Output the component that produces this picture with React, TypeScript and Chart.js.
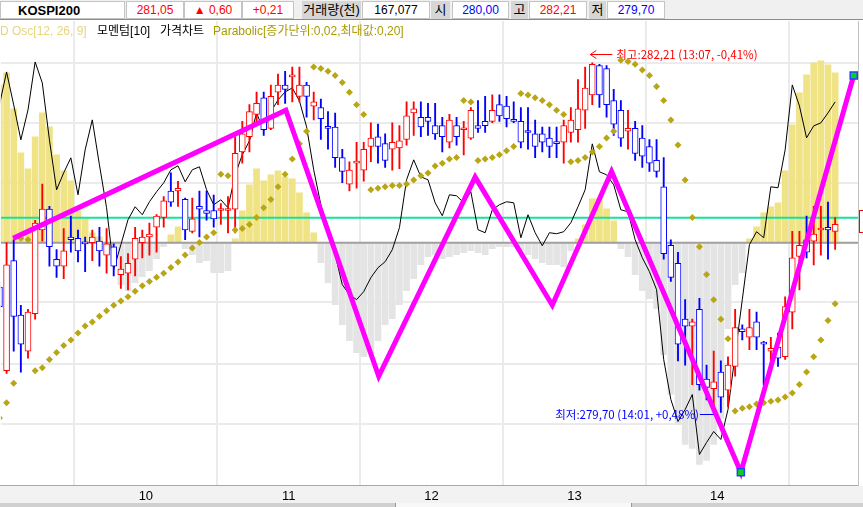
import React, { useEffect, useRef } from 'react';
import { Chart, registerables } from 'chart.js';
Chart.register(...registerables);

// ---- data (3-minute candles, index 0 = 09:00) ----
const START_INDEX = -1;
const OPEN = [280.60, 280.00, 280.79, 280.40, 280.14, 280.41, 281.01, 281.16, 280.80, 280.75,
  280.96, 280.95, 280.92, 280.92, 280.93, 280.83, 280.89, 280.69, 280.70, 280.80,
  280.92, 280.96, 281.03, 281.10, 281.29, 281.29, 281.23, 281.00, 281.18, 281.15,
  281.15, 281.15, 281.15, 281.16, 281.57, 281.68, 281.84, 281.96, 281.74, 282.00,
  282.05, 282.11, 281.97, 282.05, 281.90, 281.89, 281.75, 281.75, 281.53, 281.34,
  281.49, 281.44, 281.61, 281.68, 281.63, 281.59, 281.60, 281.66, 281.85, 281.82,
  281.82, 281.76, 281.76, 281.64, 281.76, 281.73, 281.67, 281.76, 281.79, 281.79,
  281.91, 281.90, 281.80, 281.79, 281.72, 281.70, 281.70, 281.67, 281.64, 281.64,
  281.71, 281.73, 281.87, 281.98, 282.19, 282.17, 281.94, 281.87, 281.72, 281.74,
  281.67, 281.61, 281.51, 281.32, 280.90, 280.77, 280.37, 280.32, 280.44, 279.94,
  279.87, 279.99, 279.86, 280.03, 280.30, 280.24, 280.35, 280.20, 280.14, 280.17,
  280.10, 280.42, 280.82, 280.94, 280.93, 281.01, 281.03, 281.00];
const HIGH = [280.64, 280.92, 280.94, 280.47, 280.44, 281.08, 281.34, 281.18, 280.87, 281.02,
  281.11, 281.01, 280.96, 281.01, 281.03, 281.02, 280.91, 280.82, 280.84, 281.03,
  281.01, 281.06, 281.12, 281.25, 281.42, 281.36, 281.24, 281.24, 281.29, 281.29,
  281.26, 281.20, 281.25, 281.68, 281.79, 281.91, 282.00, 282.00, 282.05, 282.13,
  282.15, 282.18, 282.18, 282.07, 282.00, 281.95, 281.86, 281.85, 281.59, 281.50,
  281.64, 281.64, 281.78, 281.77, 281.70, 281.78, 281.76, 281.93, 281.93, 281.93,
  281.92, 281.92, 281.82, 281.84, 281.82, 281.79, 281.89, 281.94, 281.97, 281.98,
  281.98, 281.97, 281.93, 281.89, 281.89, 281.80, 281.75, 281.75, 281.75, 281.80,
  281.89, 282.09, 282.18, 282.21, 282.20, 282.19, 282.02, 281.94, 281.87, 281.79,
  281.76, 281.66, 281.66, 281.53, 280.94, 280.85, 280.51, 280.37, 280.52, 280.04,
  280.14, 280.07, 280.10, 280.44, 280.33, 280.44, 280.42, 280.21, 280.24, 280.27,
  280.53, 281.00, 281.00, 281.11, 281.18, 281.18, 281.21, 281.10];
const LOW = [280.42, 279.98, 280.14, 279.99, 280.09, 280.37, 280.93, 280.75, 280.67, 280.66,
  280.85, 280.78, 280.71, 280.79, 280.75, 280.70, 280.68, 280.59, 280.58, 280.68,
  280.81, 280.83, 280.85, 281.03, 281.18, 281.18, 280.94, 280.99, 280.96, 281.08,
  281.03, 281.05, 280.99, 280.99, 281.49, 281.57, 281.77, 281.69, 281.73, 281.91,
  281.92, 281.93, 281.93, 281.82, 281.80, 281.66, 281.59, 281.46, 281.35, 281.29,
  281.31, 281.36, 281.50, 281.49, 281.46, 281.44, 281.45, 281.62, 281.69, 281.68,
  281.69, 281.66, 281.57, 281.60, 281.62, 281.55, 281.66, 281.71, 281.71, 281.78,
  281.79, 281.75, 281.78, 281.60, 281.59, 281.53, 281.57, 281.53, 281.53, 281.49,
  281.64, 281.64, 281.74, 281.91, 281.89, 281.82, 281.69, 281.61, 281.59, 281.51,
  281.46, 281.43, 281.39, 280.80, 280.64, 280.07, 280.04, 279.90, 279.86, 279.79,
  279.74, 279.70, 279.74, 279.96, 280.22, 280.15, 280.15, 279.90, 280.03, 280.03,
  280.08, 280.30, 280.58, 280.81, 280.76, 280.83, 280.80, 280.87];
const CLOSE = [280.46, 280.76, 280.39, 280.19, 280.42, 281.06, 281.16, 280.89, 280.75, 280.86,
  280.94, 280.86, 280.91, 280.96, 280.86, 280.91, 280.75, 280.73, 280.77, 280.95,
  280.96, 280.98, 281.11, 281.22, 281.21, 281.31, 281.01, 281.09, 281.16, 281.13,
  281.09, 281.16, 281.16, 281.56, 281.70, 281.86, 281.92, 281.73, 281.97, 282.05,
  282.02, 282.12, 282.05, 281.97, 281.93, 281.81, 281.74, 281.53, 281.43, 281.44,
  281.50, 281.59, 281.67, 281.61, 281.51, 281.64, 281.65, 281.83, 281.88, 281.75,
  281.79, 281.70, 281.68, 281.80, 281.68, 281.74, 281.87, 281.74, 281.76, 281.87,
  281.83, 281.81, 281.79, 281.64, 281.71, 281.61, 281.64, 281.61, 281.63, 281.76,
  281.80, 281.88, 282.03, 282.20, 281.98, 281.91, 281.77, 281.67, 281.74, 281.56,
  281.54, 281.49, 281.43, 280.84, 280.67, 280.19, 280.32, 280.35, 279.90, 279.88,
  279.92, 279.81, 280.04, 280.31, 280.28, 280.31, 280.24, 280.19, 280.16, 280.09,
  280.46, 280.81, 280.90, 280.85, 280.98, 281.02, 281.01, 281.05];
const SAR = [279.66, 279.77, 279.91, 280.95, 280.94, 280.00, 280.02, 280.08, 280.13, 280.18,
  280.22, 280.27, 280.32, 280.35, 280.39, 280.43, 280.47, 280.50, 280.53, 280.57,
  280.61, 280.64, 280.67, 280.70, 280.74, 280.78, 280.83, 280.88, 280.92, 280.96,
  280.99, 281.41, 281.40, 281.01, 281.02, 281.05, 281.10, 281.17, 281.23, 281.32,
  281.41, 281.52, 281.63, 281.72, 282.18, 282.17, 282.15, 282.12, 282.07, 282.00,
  281.91, 281.84, 281.30, 281.31, 281.32, 281.33, 281.33, 281.34, 281.37, 281.40,
  281.42, 281.47, 281.49, 281.52, 281.53, 281.94, 281.93, 281.51, 281.52, 281.53,
  281.55, 281.58, 281.61, 281.99, 281.98, 281.96, 281.94, 281.91, 281.87, 281.84,
  281.50, 281.51, 281.53, 281.57, 281.61, 281.67, 281.72, 282.23, 282.22, 282.20,
  282.16, 282.12, 282.04, 281.94, 281.80, 281.62, 281.37, 281.10, 280.89, 280.69,
  280.51, 280.37, 280.23, 279.71, 279.73, 279.74, 279.76, 279.77, 279.78, 279.79,
  279.81, 279.84, 279.90, 279.99, 280.10, 280.22, 280.36, 280.48];
const MACD_OSC = [0.079, 0.085, 0.067, 0.045, 0.037, 0.053, 0.065, 0.058, 0.044, 0.036,
  0.031, 0.016, 0.012, 0.005, 0.003, -0.003, -0.010, -0.021, -0.024, -0.020,
  -0.017, -0.014, -0.008, -0.002, 0.004, 0.008, -0.003, -0.006, -0.010, -0.009,
  -0.015, -0.015, -0.014, 0.002, 0.016, 0.029, 0.037, 0.031, 0.034, 0.036,
  0.033, 0.032, 0.025, 0.015, 0.005, -0.010, -0.020, -0.031, -0.041, -0.049,
  -0.055, -0.057, -0.055, -0.049, -0.041, -0.038, -0.031, -0.024, -0.018, -0.011,
  -0.007, -0.006, -0.008, -0.007, -0.006, -0.005, -0.004, -0.005, -0.006, -0.003,
  -0.002, -0.002, -0.002, -0.004, -0.006, -0.008, -0.010, -0.011, -0.011, -0.012,
  -0.004, 0.002, 0.009, 0.022, 0.022, 0.017, 0.011, -0.003, -0.007, -0.016,
  -0.024, -0.028, -0.033, -0.056, -0.076, -0.091, -0.101, -0.103, -0.111, -0.109,
  -0.101, -0.088, -0.043, -0.021, -0.015, 0.002, 0.008, 0.015, 0.018, 0.020,
  0.036, 0.059, 0.075, 0.084, 0.090, 0.091, 0.089, 0.085];
const MOMENTUM = [100.113, 100.146, 100.113, 100.078, 100.108, 100.156, 100.135, 100.078, 100.028, 100.045,
  100.060, 100.023, 100.068, 100.098, 100.053, 100.010, 99.948, 99.973, 99.998, 100.011,
  100.003, 100.016, 100.026, 100.035, 100.048, 100.052, 100.036, 100.048, 100.051, 100.028,
  100.013, 100.018, 100.010, 100.043, 100.063, 100.077, 100.105, 100.087, 100.106, 100.118,
  100.126, 100.130, 100.117, 100.091, 100.048, 100.013, 99.988, 99.963, 99.933, 99.923,
  99.918, 99.926, 99.940, 99.950, 99.956, 99.968, 99.990, 100.038, 100.058, 100.041,
  100.038, 100.015, 100.002, 100.023, 100.022, 100.015, 100.026, 99.988, 99.985, 100.008,
  100.013, 100.016, 100.015, 99.980, 100.003, 99.985, 99.972, 99.985, 99.984, 99.986,
  99.995, 100.011, 100.028, 100.074, 100.046, 100.043, 100.033, 100.008, 100.006, 99.978,
  99.960, 99.946, 99.928, 99.858, 99.818, 99.796, 99.808, 99.823, 99.763, 99.775,
  99.786, 99.778, 99.808, 99.863, 99.918, 99.973, 99.986, 99.980, 100.031, 100.030,
  100.068, 100.133, 100.112, 100.080, 100.092, 100.095, 100.105, 100.116];
const MOMENTUM_BASE = 100;

// user-drawn zigzag (time index, price)
const ZIGZAG_X = [0.92, 39.1, 52.1, 65.6, 76.4, 84.7, 102.8, 118.6];
const ZIGZAG_P = [280.95, 281.87, 279.96, 281.39, 280.47, 281.43, 279.27, 282.12];

const HOUR_TICKS = [-0.5, 19.5, 39.5, 59.5, 79.5, 99.5];
const HOUR_LABELS = ['', '10', '11', '12', '13', '14'];
const PRICE_GRID = [282.21, 281.78, 281.35, 280.92, 280.49, 280.05, 279.62];

const HIGH_INDEX = 82;
const LOW_INDEX = 100;
const DAY_HIGH = 282.21;
const DAY_LOW = 279.70;
const HIGH_NOTE = '최고:282,21 (13:07, -0,41%)';
const LOW_NOTE = '최저:279,70 (14:01, +0,48%)';

const SYMBOL = 'KOSPI200';
const CHANGE = '▲ 0,60';
const CHANGE_PCT = '+0,21';
const VOLUME = '167,077';

const fmt = (v: number) => v.toFixed(2).replace('.', ',');

const UP = '#ff0000';
const DOWN = '#0000ff';

export default function App() {
  const ref = useRef<HTMLCanvasElement>(null);

  useEffect(() => {
    document.body.style.margin = '0';
    const idx = OPEN.map((_, i) => START_INDEX + i);
    const colors = OPEN.map((o, i) => (CLOSE[i] >= o ? UP : DOWN));

    const notes = {
      id: 'hiLoNotes',
      afterDatasetDraw(chart: any, args: any) {
        if (args.index !== 2) return;
        const { ctx, scales } = chart;
        const xs = scales.x;
        const ys = scales.y;
        ctx.save();
        ctx.font = '11.5px "Liberation Sans Narrow", "Noto Sans CJK KR", sans-serif';
        ctx.textBaseline = 'middle';
        ctx.lineWidth = 1;
        const hx = xs.getPixelForValue(HIGH_INDEX);
        const hy = Math.round(ys.getPixelForValue(DAY_HIGH) - 9) + 0.5;
        ctx.strokeStyle = UP;
        ctx.fillStyle = UP;
        ctx.beginPath();
        ctx.moveTo(hx - 2, hy);
        ctx.lineTo(hx + 20, hy);
        ctx.moveTo(hx - 2, hy);
        ctx.lineTo(hx + 4, hy - 4);
        ctx.moveTo(hx - 2, hy);
        ctx.lineTo(hx + 4, hy + 4);
        ctx.stroke();
        ctx.textAlign = 'left';
        ctx.fillText(HIGH_NOTE, hx + 24, hy);
        const lx = xs.getPixelForValue(LOW_INDEX);
        const ly = Math.round(ys.getPixelForValue(DAY_LOW) + 2) + 0.5;
        ctx.strokeStyle = DOWN;
        ctx.fillStyle = DOWN;
        ctx.beginPath();
        ctx.moveTo(lx - 21, ly);
        ctx.lineTo(lx - 4, ly);
        ctx.stroke();
        ctx.textAlign = 'right';
        ctx.fillText(LOW_NOTE, lx - 22, ly);
        ctx.restore();
      },
    };

    const xMin = -0.8;
    const xMax = 119.2;

    const chart = new Chart(ref.current as HTMLCanvasElement, {
      type: 'line',
      data: {
        datasets: [
          {
            type: 'line',
            label: 'zigzag',
            data: ZIGZAG_X.map((x, i) => ({ x, y: ZIGZAG_P[i] })),
            borderColor: '#ff00ff',
            borderWidth: 5,
            borderJoinStyle: 'miter',
            pointStyle: 'rect',
            pointRadius: ZIGZAG_X.map((_, i) => (i >= ZIGZAG_X.length - 2 ? 5 : 0)),
            pointBackgroundColor: '#11cc22',
            pointBorderColor: '#2244ff',
            pointBorderWidth: 1.5,
            tension: 0,
            order: 0,
            yAxisID: 'y',
          },
          {
            type: 'line',
            label: 'Parabolic',
            data: idx.map((x, i) => ({ x, y: SAR[i] })),
            showLine: false,
            pointStyle: 'rectRot',
            pointRadius: 3.5,
            pointBackgroundColor: '#b9a614',
            pointBorderWidth: 0,
            order: 1,
            yAxisID: 'y',
          },
          {
            type: 'bar',
            label: 'body',
            data: idx.map((x, i) => ({ x, y: [OPEN[i], CLOSE[i]] })),
            backgroundColor: '#ffffff',
            borderColor: colors,
            borderWidth: 1,
            borderSkipped: false,
            barThickness: 6,
            minBarLength: 2,
            grouped: false,
            order: 2,
            yAxisID: 'y',
          },
          {
            type: 'bar',
            label: 'wick',
            data: idx.map((x, i) => ({ x, y: [LOW[i], HIGH[i]] })),
            backgroundColor: colors,
            borderWidth: 0,
            barThickness: 1.2,
            grouped: false,
            order: 3,
            yAxisID: 'y',
          },
          {
            type: 'line',
            label: '모멘텀',
            data: idx.map((x, i) => ({ x, y: MOMENTUM[i] })),
            borderColor: '#000000',
            borderWidth: 1,
            pointRadius: 0,
            tension: 0,
            order: 4,
            yAxisID: 'mom',
          },
          {
            type: 'line',
            label: 'momentum base',
            data: [{ x: xMin, y: MOMENTUM_BASE }, { x: xMax, y: MOMENTUM_BASE }],
            borderColor: '#14e39a',
            borderWidth: 2,
            pointRadius: 0,
            order: 5,
            yAxisID: 'mom',
          },
          {
            type: 'line',
            label: 'osc zero',
            data: [{ x: xMin, y: 0 }, { x: xMax, y: 0 }],
            borderColor: '#a0a0a0',
            borderWidth: 2,
            pointRadius: 0,
            order: 6,
            yAxisID: 'osc',
          },
          {
            type: 'bar',
            label: 'MACD Osc',
            data: idx.map((x, i) => ({ x, y: MACD_OSC[i] })),
            backgroundColor: MACD_OSC.map((v) => (v >= 0 ? '#f0e386' : '#e4e4e4')),
            borderWidth: 0,
            barThickness: 6,
            grouped: false,
            order: 7,
            yAxisID: 'osc',
          },
        ],
      } as any,
      options: {
        animation: false,
        responsive: false,
        devicePixelRatio: 1,
        events: [],
        layout: { autoPadding: false, padding: { top: 21, right: 5, left: 0, bottom: 0 } },
        plugins: { legend: { display: false }, tooltip: { enabled: false } },
        scales: {
          x: {
            type: 'linear',
            min: xMin,
            max: xMax,
            offset: false,
            afterBuildTicks: (axis: any) => {
              axis.ticks = HOUR_TICKS.map((v) => ({ value: v }));
            },
            ticks: {
              autoSkip: false,
              maxRotation: 0,
              padding: 3,
              color: '#000',
              font: { family: '"Liberation Sans Narrow", "Liberation Sans", sans-serif', size: 13 },
              callback: (v: any) => {
                const i = HOUR_TICKS.indexOf(Number(v));
                return i >= 0 ? HOUR_LABELS[i] : '';
              },
            },
            grid: { color: '#ebebeb', lineWidth: 2, drawTicks: false },
            border: { display: true, color: '#a8a8a8', width: 1 },
          },
          y: {
            type: 'linear',
            position: 'right',
            min: 279.176,
            max: 282.511,
            afterBuildTicks: (axis: any) => {
              axis.ticks = PRICE_GRID.map((v) => ({ value: v }));
            },
            ticks: { display: false },
            grid: { color: '#ebebeb', lineWidth: 2, drawTicks: false },
            border: { display: false },
          },
          mom: { type: 'linear', axis: 'y', display: false, min: 99.732, max: 100.197 },
          osc: { type: 'linear', axis: 'y', display: false, min: -0.1215, max: 0.111 },
        },
      } as any,
      plugins: [notes],
    });
    return () => chart.destroy();
  }, []);

  const font = '"Liberation Sans", "Noto Sans CJK KR", sans-serif';
  const cell = (left: number, width: number, text: string, color: string, bg: string, extra: any = {}) => (
    <div
      style={{
        position: 'absolute', left, top: 1, width, height: 18, boxSizing: 'border-box',
        border: bg === '#ffffff' ? '1px solid #c4c4c4' : 'none', background: bg, color,
        fontSize: 12, lineHeight: '17px', textAlign: 'center', whiteSpace: 'nowrap', fontFamily: font, ...extra,
      }}
    >
      {text}
    </div>
  );
  const legend = (left: number, text: string, color: string) => (
    <span style={{ position: 'absolute', left, top: 22, fontSize: 12, lineHeight: '18px', color, whiteSpace: 'nowrap', fontFamily: font }}>
      {text}
    </span>
  );

  return (
    <div style={{ position: 'relative', width: 863, height: 507, overflow: 'hidden', background: '#ffffff', fontFamily: font }}>
      <div style={{ position: 'absolute', left: 0, top: 486, width: 863, height: 21, background: '#f2f2f2' }} />
      <canvas ref={ref} width={863} height={507} style={{ position: 'absolute', left: 0, top: 0 }} />
      <div style={{ position: 'absolute', left: 0, top: 0, width: 863, height: 20, background: '#f0f0f0', borderBottom: '1px solid #8c8c8c', boxSizing: 'border-box' }} />
      {cell(0, 125, SYMBOL, '#000', '#ffffff', { textAlign: 'left', paddingLeft: 17, fontWeight: 'bold', fontSize: 13 })}
      {cell(126, 58, fmt(CLOSE[CLOSE.length - 1]), UP, '#ffffff')}
      {cell(184, 58, CHANGE, UP, '#ffffff')}
      {cell(242, 52, CHANGE_PCT, UP, '#ffffff')}
      {cell(302, 59, '거래량(천)', '#000', '#d6d6d6', { fontSize: 13 })}
      {cell(362, 68, VOLUME, '#000', '#ffffff')}
      {cell(431, 19, '시', '#000', '#d6d6d6', { fontSize: 13 })}
      {cell(452, 57, fmt(OPEN[1]), DOWN, '#ffffff')}
      {cell(511, 17, '고', '#000', '#d6d6d6', { fontSize: 13 })}
      {cell(529, 58, fmt(DAY_HIGH), UP, '#ffffff')}
      {cell(589, 17, '저', '#000', '#d6d6d6', { fontSize: 13 })}
      {cell(607, 58, fmt(DAY_LOW), DOWN, '#ffffff')}
      {legend(0, 'D Osc[12, 26, 9]', '#e6d67c')}
      {legend(97, '모멘텀[10]', '#000000')}
      {legend(160, '가격차트', '#000000')}
      {legend(213, 'Parabolic[증가단위:0,02,최대값:0,20]', '#aa9a00')}
      <div style={{ position: 'absolute', left: 858, top: 21, width: 1, height: 465, background: '#c0c0c0' }} />
      <div style={{ position: 'absolute', left: 859, top: 210, width: 8, height: 23, border: '1px solid #ff0000', boxSizing: 'border-box' }} />
      <div style={{ position: 'absolute', left: 0, top: 503, width: 863, height: 4, background: '#d0d0d0' }} />
      <div style={{ position: 'absolute', left: 395, top: 503, width: 235, height: 4, background: '#f8f8f8', borderLeft: '1px solid #999', borderRight: '1px solid #999' }} />
    </div>
  );
}
